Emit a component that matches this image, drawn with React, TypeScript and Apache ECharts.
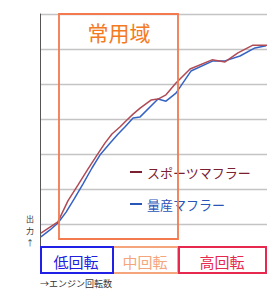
import React, { useEffect, useRef } from "react";
import * as echarts from "echarts";

// x: engine speed position (% of rev range), y: output (grid units)
const sportX = [0.4, 4.4, 7.9, 12.3, 16.7, 21.1, 25.1, 28.6, 31.7, 35.2, 38.3, 41.0, 44.1, 48.9, 52.0, 55.5, 59.9, 66.1, 75.8, 81.5, 87.2, 93.8, 100];
const sportY = [0.74, 0.91, 1.06, 1.66, 2.11, 2.57, 2.97, 3.31, 3.57, 3.77, 3.97, 4.14, 4.31, 4.54, 4.57, 4.69, 5.03, 5.43, 5.69, 5.63, 5.89, 6.11, 6.11];
const stockX = [0.4, 4.4, 7.9, 11.5, 15.0, 18.9, 22.9, 26.4, 30.8, 34.4, 37.4, 41.0, 44.1, 52.0, 55.5, 59.9, 66.5, 76.2, 81.5, 88.1, 94.7, 99.6];
const stockY = [0.63, 0.83, 1.03, 1.34, 1.71, 2.14, 2.6, 2.97, 3.31, 3.57, 3.77, 4.03, 4.06, 4.57, 4.51, 4.74, 5.37, 5.66, 5.66, 5.8, 6.03, 6.09];
const seriesNames = ["スポーツマフラー", "量産マフラー"];
const rangeLabels = ["低回転", "中回転", "高回転"];
const titleText = "常用域";
const xAxisLabel = "→エンジン回転数";
const yAxisChars = ["出", "力", "↑"];

const FONT = "'Noto Sans CJK JP', 'Noto Sans', sans-serif";

export default function App() {
  const ref = useRef<HTMLDivElement>(null);
  useEffect(() => {
    if (!ref.current) return;
    const chart = echarts.init(ref.current, null, { renderer: "svg" });
    const zip = (xs: number[], ys: number[]) => xs.map((x, i) => [x, ys[i]]);
    chart.setOption({
      animation: false,
      backgroundColor: "#ffffff",
      textStyle: { fontFamily: FONT },
      grid: { left: 40, right: 0, top: 14, bottom: 41 },
      xAxis: {
        type: "value",
        min: 0,
        max: 100,
        axisLine: { show: false },
        axisTick: { show: false },
        axisLabel: { show: false },
        splitLine: { show: false },
      },
      yAxis: {
        type: "value",
        min: 0,
        max: 7,
        interval: 1,
        axisLine: { show: true, lineStyle: { color: "#555", width: 1 } },
        axisTick: { show: false },
        axisLabel: { show: false },
        splitLine: { show: true, lineStyle: { color: "#c4c4c4", width: 1.3 } },
      },
      legend: {
        orient: "vertical",
        left: 130,
        top: 165,
        padding: 0,
        itemWidth: 12,
        itemHeight: 2,
        itemGap: 18,
        icon: "rect",
        textStyle: { fontSize: 13, lineHeight: 14, fontFamily: FONT },
        data: [
          { name: seriesNames[0], textStyle: { color: "#7a2030" } },
          { name: seriesNames[1], textStyle: { color: "#2a55b8" } },
        ],
      },
      series: [
        {
          name: seriesNames[0],
          type: "line",
          data: zip(sportX, sportY),
          showSymbol: false,
          symbol: "none",
          lineStyle: { color: "#b04a55", width: 1.5 },
          itemStyle: { color: "#7a2030" },
          z: 3,
        },
        {
          name: seriesNames[1],
          type: "line",
          data: zip(stockX, stockY),
          showSymbol: false,
          symbol: "none",
          lineStyle: { color: "#3563c4", width: 1.5 },
          itemStyle: { color: "#2a55b8" },
          z: 2,
        },
      ],
      graphic: [
        {
          type: "rect",
          z: 100,
          shape: { x: 59, y: 14, width: 119, height: 225 },
          style: { fill: "none", stroke: "#f27a4e", lineWidth: 1.8 },
        },
        {
          type: "text",
          z: 100,
          x: 119,
          y: 32,
          style: {
            text: titleText,
            fill: "#f47a22",
            font: `21px ${FONT}`,
            textAlign: "center",
            textVerticalAlign: "middle",
          },
        },
        {
          type: "rect",
          z: 101,
          shape: { x: 41, y: 247, width: 72, height: 26 },
          style: { fill: "#ffffff", stroke: "#2020e6", lineWidth: 2 },
        },
        {
          type: "rect",
          z: 100,
          shape: { x: 113, y: 247, width: 65, height: 26 },
          style: { fill: "#ffffff", stroke: "#f5a57c", lineWidth: 2 },
        },
        {
          type: "rect",
          z: 101,
          shape: { x: 179, y: 247, width: 87, height: 26 },
          style: { fill: "#ffffff", stroke: "#e8294f", lineWidth: 2 },
        },
        {
          type: "text",
          z: 102,
          x: 76,
          y: 261,
          style: { text: rangeLabels[0], fill: "#2020e0", font: `15px ${FONT}`, textAlign: "center", textVerticalAlign: "middle" },
        },
        {
          type: "text",
          z: 102,
          x: 145,
          y: 261,
          style: { text: rangeLabels[1], fill: "#f5a57c", font: `15px ${FONT}`, textAlign: "center", textVerticalAlign: "middle" },
        },
        {
          type: "text",
          z: 102,
          x: 222,
          y: 261,
          style: { text: rangeLabels[2], fill: "#e8294f", font: `15px ${FONT}`, textAlign: "center", textVerticalAlign: "middle" },
        },
        {
          type: "text",
          z: 102,
          x: 40,
          y: 283,
          style: { text: xAxisLabel, fill: "#333", font: `9px ${FONT}`, textAlign: "left", textVerticalAlign: "middle" },
        },
        ...yAxisChars.map((c, i) => ({
          type: "text",
          z: 102,
          x: 30,
          y: 218 + i * 12,
          style: { text: c, fill: "#333", font: `8px ${FONT}`, lineHeight: 8, textAlign: "center", textVerticalAlign: "middle" },
        })),
      ],
    });
    return () => chart.dispose();
  }, []);
  return <div ref={ref} style={{ width: 267, height: 300, position: "absolute", left: 0, top: 0 }} />;
}
